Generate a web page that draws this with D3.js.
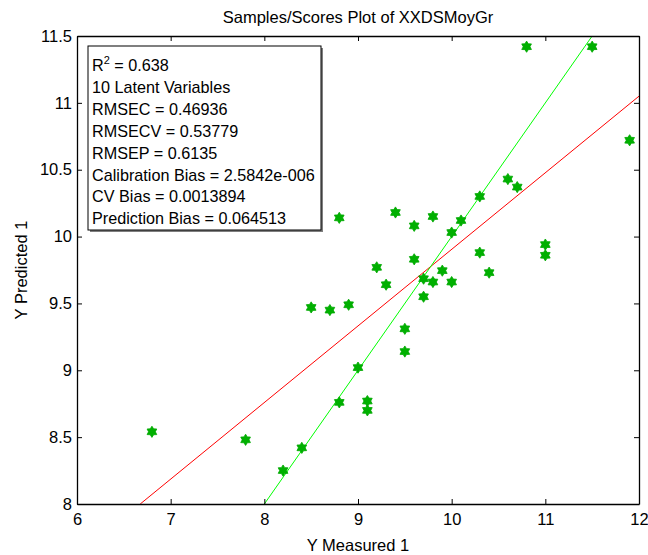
<!DOCTYPE html>
<html>
<head>
<meta charset="utf-8">
<script src="https://cdn.jsdelivr.net/npm/d3@7"></script>
<style>
  html, body { margin: 0; padding: 0; background: #fff; }
  svg { display: block; font-family: "Liberation Sans", Arial, sans-serif; }
</style>
</head>
<body>
<svg id="chart" width="648" height="555"></svg>
<script>
// Measured vs predicted values for each sample
const measured = [6.8, 7.8, 8.2, 8.4, 8.5, 8.7, 8.8, 8.8, 8.9, 9.0, 9.1, 9.1, 9.2, 9.3, 9.4,
  9.5, 9.5, 9.6, 9.6, 9.7, 9.7, 9.8, 9.8, 9.9, 10.0, 10.0, 10.1, 10.3, 10.3, 10.4,
  10.6, 10.7, 10.8, 11.0, 11.0, 11.5, 11.9];
const predicted = [8.54, 8.48, 8.25, 8.42, 9.47, 9.45, 10.14, 8.76, 9.49, 9.02, 8.77, 8.70, 9.77, 9.64, 10.18,
  9.31, 9.14, 10.08, 9.83, 9.685, 9.55, 10.15, 9.66, 9.745, 10.03, 9.66, 10.12, 10.30, 9.88, 9.73,
  10.43, 10.37, 11.42, 9.94, 9.86, 11.42, 10.72];

// Fit line (red) and 1:1 reference line (green), as endpoint pairs
const fitLine = [[6.675, 8.0], [12.0, 11.05]];
const identityLine = [[6.0, 6.0], [12.0, 12.0]];

const xTicks = [6, 7, 8, 9, 10, 11, 12];
const yTicks = [8, 8.5, 9, 9.5, 10, 10.5, 11, 11.5];

const statsLines = [
  "10 Latent Variables",
  "RMSEC = 0.46936",
  "RMSECV = 0.53779",
  "RMSEP = 0.6135",
  "Calibration Bias = 2.5842e-006",
  "CV Bias = 0.0013894",
  "Prediction Bias = 0.064513"
];
const r2Value = "0.638";

const svg = d3.select("#chart");
const L = 77, R = 639, T = 36, B = 504;

const x = d3.scaleLinear().domain([6, 12]).range([L, R]);
const y = d3.scaleLinear().domain([8, 11.5]).range([B, T]);

// Title
svg.append("text")
  .attr("x", (L + R) / 2).attr("y", 23)
  .attr("text-anchor", "middle")
  .attr("font-size", 16.5)
  .text("Samples/Scores Plot of XXDSMoyGr");

// Clip region for the lines
svg.append("defs").append("clipPath").attr("id", "plotclip")
  .append("rect").attr("x", L).attr("y", T).attr("width", R - L).attr("height", B - T);

const lineGen = d3.line().x(d => x(d[0])).y(d => y(d[1]));
const lines = svg.append("g").attr("clip-path", "url(#plotclip)");
lines.append("path").datum(fitLine)
  .attr("d", lineGen).attr("fill", "none").attr("stroke", "#ff0000").attr("stroke-width", 1);
lines.append("path").datum(identityLine)
  .attr("d", lineGen).attr("fill", "none").attr("stroke", "#00ff00").attr("stroke-width", 1);

// Six-pointed star marker
function hexagram(ro, ri) {
  const pts = [];
  for (let i = 0; i < 12; i++) {
    const a = -Math.PI / 2 + i * Math.PI / 6;
    const r = i % 2 === 0 ? ro : ri;
    pts.push([r * Math.cos(a), r * Math.sin(a)]);
  }
  return "M" + pts.map(p => p[0].toFixed(2) + "," + p[1].toFixed(2)).join("L") + "Z";
}
const starPath = hexagram(5.6, 3.4);

svg.append("g").selectAll("path.pt")
  .data(measured.map((m, i) => [m, predicted[i]]))
  .join("path")
  .attr("class", "pt")
  .attr("d", starPath)
  .attr("transform", d => `translate(${x(d[0])},${y(d[1])})`)
  .attr("fill", "#00b000")
  .attr("stroke", "#00a800")
  .attr("stroke-width", 0.8);

// Axes: ticks inward on all four sides
const tickLen = 5;
const axisG = svg.append("g");
axisG.append("g").attr("transform", `translate(0,${B})`)
  .call(d3.axisBottom(x).tickValues(xTicks).tickSizeInner(-tickLen).tickSizeOuter(0).tickPadding(9).tickFormat(d3.format("d")));
axisG.append("g").attr("transform", `translate(0,${T})`)
  .call(d3.axisTop(x).tickValues(xTicks).tickSizeInner(-tickLen).tickSizeOuter(0).tickFormat(""));
axisG.append("g").attr("transform", `translate(${L},0)`)
  .call(d3.axisLeft(y).tickValues(yTicks).tickSizeInner(-tickLen).tickSizeOuter(0).tickPadding(5).tickFormat(d => d3.format("")(d)));
axisG.append("g").attr("transform", `translate(${R},0)`)
  .call(d3.axisRight(y).tickValues(yTicks).tickSizeInner(-tickLen).tickSizeOuter(0).tickFormat(""));
axisG.selectAll("path.domain").attr("stroke", "#000").attr("stroke-width", 1.3);
axisG.selectAll(".tick line").attr("stroke", "#000");
axisG.selectAll(".tick text").attr("font-size", 16.5).attr("fill", "#000")
  .attr("font-family", "'Liberation Sans', Arial, sans-serif");

// Axis labels
svg.append("text")
  .attr("x", (L + R) / 2).attr("y", 551)
  .attr("text-anchor", "middle").attr("font-size", 16.5)
  .text("Y Measured 1");
svg.append("text")
  .attr("transform", `translate(27,${(T + B) / 2}) rotate(-90)`)
  .attr("text-anchor", "middle").attr("font-size", 16.5)
  .text("Y Predicted 1");

// Statistics box
const bx = 88, by = 46, bw = 233, bh = 184;
svg.append("rect").attr("x", bx + 2).attr("y", by + 2).attr("width", bw).attr("height", bh)
  .attr("fill", "#7f7f7f");
svg.append("rect").attr("x", bx).attr("y", by).attr("width", bw).attr("height", bh)
  .attr("fill", "#fff").attr("stroke", "#000").attr("stroke-width", 1);

const fs = 16.2;
const lineH = 21.9;
const firstBase = 71;
const r2 = svg.append("text").attr("x", 92).attr("y", firstBase).attr("font-size", fs);
r2.append("tspan").text("R");
r2.append("tspan").attr("font-size", 11).attr("dy", -7).text("2");
r2.append("tspan").attr("dy", 7).text(" = " + r2Value);

svg.append("g").selectAll("text")
  .data(statsLines)
  .join("text")
  .attr("x", 92)
  .attr("y", (d, i) => firstBase + (i + 1) * lineH)
  .attr("font-size", fs)
  .text(d => d);
</script>
</body>
</html>
